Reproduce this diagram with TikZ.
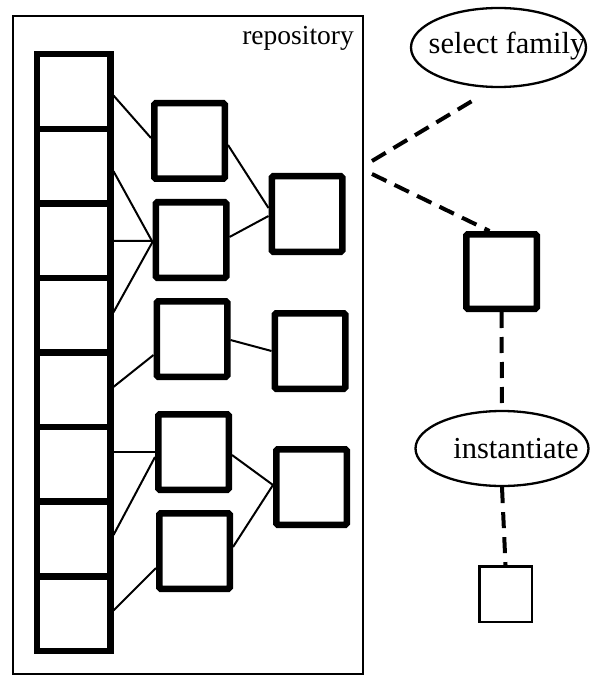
\documentclass[tikz,border=0pt]{standalone}
\usepackage{fontspec}
\setmainfont{Liberation Serif}
\usetikzlibrary{shapes.geometric}
\tikzset{
  bigbox/.style={draw, line width=6.5pt, minimum width=70.5pt, minimum height=75.5pt, inner sep=0pt, rounded corners=1.5pt},
  cell/.style={draw, line width=6.5pt, minimum width=73.5pt, minimum height=74.3pt, inner sep=0pt},
  smallbox/.style={draw, line width=2.5pt, minimum width=52.5pt, minimum height=55.5pt, inner sep=0pt},
  oval/.style={draw, ellipse, line width=2.3pt, inner sep=0pt},
  ovaltext/.style={anchor=base, inner sep=0pt, font=\fontsize{30.5}{33}\selectfont},
  link/.style={line width=2pt},
  dashlink/.style={line width=4pt, dash pattern=on 16pt off 9pt},
  frame/.style={draw, line width=2pt}
}
\begin{document}
\begin{tikzpicture}[x=1pt,y=-1pt]
\useasboundingbox (0,0) rectangle (591,676);
% repository frame
\node[frame, minimum width=350pt, minimum height=657pt, inner sep=0pt] (repo) at (188,345) {};
\node[anchor=base east, font=\fontsize{27.5}{30}\selectfont, inner sep=0pt] (repolabel) at (354,45) {repository};
% left column
\foreach \i/\y in {1/91.5,2/166.2,3/240.8,4/315.3,5/389.9,6/464.4,7/539.0,8/613.5}
  \node[cell, minimum height=74.6pt] (L\i) at (73.5,\y) {};
% middle boxes
\node[bigbox] (M1) at (189.5,141) {};
\node[bigbox] (M2) at (191,240) {};
\node[bigbox] (M3) at (192,339) {};
\node[bigbox] (M4) at (193.5,452) {};
\node[bigbox] (M5) at (194.5,551) {};
% right boxes
\node[bigbox] (R1) at (307,214) {};
\node[bigbox] (R2) at (310,351) {};
\node[bigbox] (R3) at (311.5,487) {};
% links
\draw[link] ([yshift=-4pt]L1.east) -- ([yshift=3pt]M1.west);
\draw[link] ([yshift=-5pt]L2.east) -- ([yshift=-2pt]M2.west);
\draw[link] (L3.east) -- ([yshift=-1pt]M2.west);
\draw[link] ([yshift=3pt]L4.east) -- ([yshift=-2pt]M2.west);
\draw[link] ([yshift=3pt]L5.east) -- ([yshift=-16pt]M3.west);
\draw[link] (L6.east |- M4.west) -- (M4.west);
\draw[link] ([yshift=4pt]L7.east) -- ([yshift=-5pt]M4.west);
\draw[link] ([yshift=3pt]L8.east) -- ([yshift=-17pt]M5.west);
\draw[link] ([yshift=-4pt]M1.east) -- ([yshift=6pt]R1.west);
\draw[link] ([yshift=3pt]M2.east) -- ([yshift=-2pt]R1.west);
\draw[link] ([yshift=-1pt]M3.east) -- (R2.west);
\draw[link] ([yshift=-3pt]M4.east) -- ([yshift=2pt]R3.west);
\draw[link] ([yshift=4pt]M5.east) -- ([yshift=2pt]R3.west);
% right side
\node[oval, minimum width=175pt, minimum height=79pt] (SF) at (498.5,47.5) {};
\node[ovaltext] (SFtext) at (507,54) {select family};
\node[bigbox, minimum width=70.5pt, minimum height=74.5pt] (R4) at (501.5,271.5) {};
\node[oval, minimum width=173pt, minimum height=75pt] (INST) at (502,448.5) {};
\node[ovaltext] (INSTtext) at (516,458) {instantiate};
\node[smallbox] (S) at (505.5,594) {};
\coordinate (apexA) at (372,161);
\coordinate (apexB) at (372,174);
\draw[dashlink] (apexA) -- ([xshift=-20pt,yshift=-9pt]SF.south);
\draw[dashlink] (apexB) -- ([xshift=-12pt]R4.north);
\draw[dashlink] (R4.south) -- (INST.north);
\draw[dashlink] (INST.south) -- (S.north);
\end{tikzpicture}
\end{document}
